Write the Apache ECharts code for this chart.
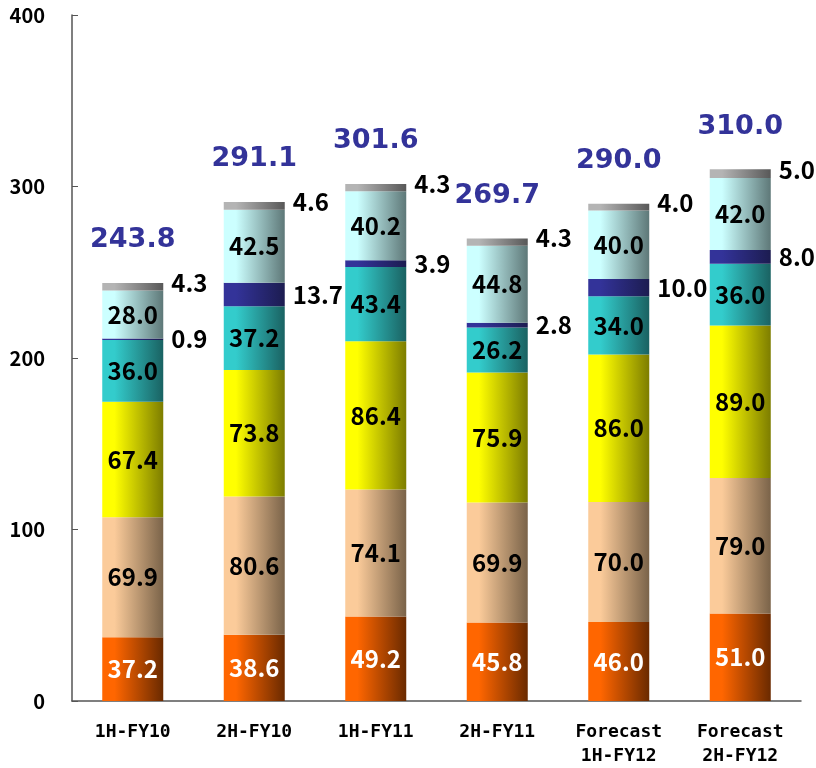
<!DOCTYPE html>
<html>
<head>
<meta charset="utf-8">
<script src="https://cdn.jsdelivr.net/npm/echarts@6/dist/echarts.min.js"></script>
<style>html,body{margin:0;padding:0;background:#fff;}#c{width:816px;height:768px;}</style>
</head>
<body>
<div id="c"></div>
<script>
const categories = ['1H-FY10', '2H-FY10', '1H-FY11', '2H-FY11', 'Forecast\n1H-FY12', 'Forecast\n2H-FY12'];
const yTicks = [0, 100, 200, 300, 400];
const sOrange = [37.2, 38.6, 49.2, 45.8, 46.0, 51.0];
const sTan = [69.9, 80.6, 74.1, 69.9, 70.0, 79.0];
const sYellow = [67.4, 73.8, 86.4, 75.9, 86.0, 89.0];
const sTeal = [36.0, 37.2, 43.4, 26.2, 34.0, 36.0];
const sNavy = [0.9, 13.7, 3.9, 2.8, 10.0, 8.0];
const sCyan = [28.0, 42.5, 40.2, 44.8, 40.0, 42.0];
const sGray = [4.3, 4.6, 4.3, 4.3, 4.0, 5.0];
const totals = [243.8, 291.1, 301.6, 269.7, 290.0, 310.0];

const FONT = '"Noto Sans CJK JP", "DejaVu Sans", sans-serif';

function grad(c1, c2) {
  return new echarts.graphic.LinearGradient(0, 0, 1, 0, [
    {offset: 0, color: c1}, {offset: 0.2, color: c1}, {offset: 1, color: c2}
  ]);
}

function barSeries(name, data, c1, c2, labelPos, labelColor, offsetY) {
  return {
    name: name, type: 'bar', stack: 'total', data: data, barWidth: 61,
    itemStyle: {color: grad(c1, c2)},
    label: {
      show: true, position: labelPos, distance: labelPos === 'right' ? 8 : 5,
      offset: [0, offsetY || 0],
      formatter: p => p.value.toFixed(1),
      color: labelColor, fontFamily: FONT, fontWeight: 'bold', fontSize: 24
    }
  };
}

const chart = echarts.init(document.getElementById('c'), null, {renderer: 'canvas'});
chart.setOption({
  animation: false,
  backgroundColor: '#fff',
  grid: {left: 72, right: 15, top: 15, bottom: 66},
  xAxis: {
    type: 'category', data: categories,
    axisLine: {lineStyle: {color: '#555', width: 1.5}},
    axisTick: {inside: true, length: 5, lineStyle: {color: '#555'}},
    axisLabel: {color: '#000', fontFamily: '"DejaVu Sans Mono", monospace', fontWeight: 'bold', fontSize: 18, margin: 19, lineHeight: 24, interval: 0}
  },
  yAxis: {
    type: 'value', min: 0, max: 400, interval: 100,
    axisLine: {show: true, lineStyle: {color: '#555', width: 1.5}},
    axisTick: {show: true, inside: true, length: 6, lineStyle: {color: '#555'}},
    splitLine: {show: false},
    axisLabel: {color: '#000', fontFamily: FONT, fontWeight: 'bold', fontSize: 20, margin: 27,
      formatter: v => yTicks.includes(v) ? String(v) : ''}
  },
  series: [
    barSeries('a', sOrange, '#FF6600', '#6A2A00', 'inside', '#fff'),
    barSeries('b', sTan, '#FBCB9A', '#7A6349', 'inside', '#000'),
    barSeries('c', sYellow, '#FFFF00', '#7D7D00', 'inside', '#000'),
    barSeries('d', sTeal, '#33CCCC', '#1A6262', 'inside', '#000'),
    barSeries('e', sNavy, '#333399', '#1C1C50', 'right', '#000'),
    barSeries('f', sCyan, '#CCFFFF', '#5E7878', 'inside', '#000'),
    barSeries('g', sGray, '#B4B4B4', '#585858', 'right', '#000', -4),
    {
      type: 'scatter', data: totals, symbolSize: 0, z: 10,
      itemStyle: {opacity: 1},
      label: {show: true, position: 'top', distance: 29, formatter: p => p.value.toFixed(1),
        color: '#333399', fontFamily: '"DejaVu Sans", sans-serif', fontWeight: 'bold', fontSize: 27}
    }
  ]
});
</script>
</body>
</html>
